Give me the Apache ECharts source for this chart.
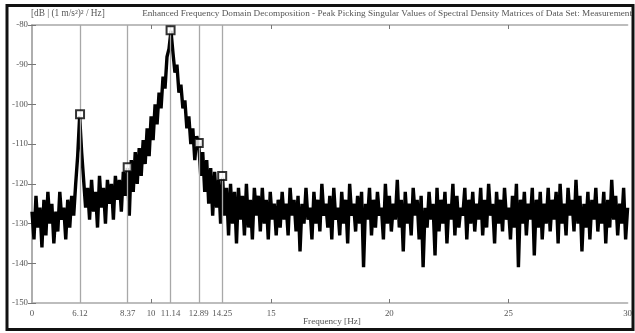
<!DOCTYPE html>
<html><head><meta charset="utf-8">
<script src="https://cdn.jsdelivr.net/npm/echarts@6/dist/echarts.min.js"></script>
<style>html,body{margin:0;padding:0;background:#fff}#c{width:635px;height:333px}</style>
</head><body><div id="c"></div>
<script>
// Singular value spectrum (dB), sampled evenly along the displayed axis (axis units 0..30)
const xStep = 0.1;
const svValues = [
 -127,-134,-123,-131,-126,-136,-124,-133,-122,-130,-125,-135,-127,-132,-122,-129,-126,-134,-124,-131,-123,-128,
 -120,-113,-103,-112,-119,-126,
 -121,-129,-119,-127,-122,-131,-118,-126,-121,-130,-119,-125,-120,-129,-118,-124,-119,-127,-117,-123,
 -116,-128,
 -114,-122,-112,-120,-111,-118,-109,-115,-106,-113,-103,-109,-100,-105,-97,-101,-93,-96,-88,-86,-81.5,
 -87,-92,-90,-97,-95,-101,-99,-106,-103,-110,-106,-114,-108,-110,-118,-112,-122,-114,-125,-116,-128,-117,-126,-119,-130,-118.5,
 -128,-121,-133,-120,-130,-122,-135,-121,-129,-123,-133,-120,-131,-124,-134,-121,-128,-123,-132,-121,-130,-124,-134,-122,-129,-125,-133,
 -124,-131,-122,-129,-125,-133,-121,-128,-124,-132,-123,-137,-125,-130,-121,-129,-126,-134,-122,-130,
 -124,-132,-120,-128,-125,-131,-123,-134,-121,-129,-126,-133,-122,-130,-124,-135,-120,-128,-125,-132,
 -123,-130,-122,-141,-125,-129,-121,-133,-124,-131,-122,-128,-126,-134,-120,-130,-123,-132,-125,-129,
 -119,-131,-124,-137,-122,-130,-125,-133,-121,-128,-124,-134,-123,-141,-126,-131,-122,-129,-125,-138,
 -121,-132,-124,-130,-122,-135,-125,-129,-120,-133,-123,-131,-126,-128,-121,-134,-124,-130,-122,-132,
 -125,-129,-121,-133,-124,-131,-120,-128,-125,-135,-122,-130,-124,-132,-121,-129,-126,-134,-123,-131,
 -120,-141,-124,-130,-122,-133,-125,-129,-121,-138,-124,-131,-122,-134,-125,-130,-121,-132,-124,-129,
 -122,-135,-120,-130,-125,-133,-121,-128,-124,-132,-119,-130,-123,-137,-125,-131,-122,-134,-124,-129,
 -121,-132,-125,-130,-122,-135,-124,-131,-119,-129,-123,-133,-125,-130,-121,-134,-126
];
// Picked peaks
const peakPos = [2.42, 4.82, 6.98, 8.4, 9.58];
const peakDb = [-102.5, -115.8, -81.3, -109.7, -118];
// Tick labels on the frequency axis and where they sit
const xLabelPos = [0, 2.42, 4.82, 6.0, 6.98, 8.4, 9.58, 12.05, 18, 24, 30];
const xLabelText = ['0','6.12','8.37','10','11.14','12.89','14.25','15','20','25','30'];
const xTickPos = [6.0, 12.05, 18, 24];

const labelMap = {};
xLabelPos.forEach((p, i) => labelMap[p.toFixed(2)] = xLabelText[i]);
const lineData = svValues.map((v, i) => [+(i * xStep).toFixed(2), v]);
const peakData = peakPos.map((p, i) => [p, peakDb[i]]);

const FONT = 'Liberation Serif';
const GREY = '#a8a8a8';
const TXT = '#555';

const chart = echarts.init(document.getElementById('c'), null, {renderer: 'canvas'});
chart.setOption({
  animation: false,
  backgroundColor: '#fff',
  grid: {left: 32, right: 3, top: 25, bottom: 30},
  xAxis: [{
    type: 'value', min: 0, max: 30, position: 'bottom',
    axisLine: {lineStyle: {color: GREY, width: 1.5}},
    axisTick: {show: true, inside: true, length: 4, customValues: xTickPos, lineStyle: {color: '#777'}},
    axisLabel: {customValues: xLabelPos, formatter: v => labelMap[(+v).toFixed(2)] || '',
      fontFamily: FONT, fontSize: 8.8, color: TXT, margin: 6},
    splitLine: {show: false}
  }, {
    type: 'value', min: 0, max: 30, position: 'top',
    axisLine: {lineStyle: {color: GREY, width: 1.5}},
    axisTick: {show: true, inside: true, length: 4, customValues: xTickPos, lineStyle: {color: '#777'}},
    axisLabel: {show: false}, splitLine: {show: false}
  }],
  yAxis: [{
    type: 'value', min: -150, max: -80, interval: 10, position: 'left',
    axisLine: {show: true, lineStyle: {color: GREY, width: 1.5}},
    axisTick: {show: true, inside: true, length: 4, lineStyle: {color: '#777'}},
    axisLabel: {fontFamily: FONT, fontSize: 8.8, color: TXT, margin: 4},
    splitLine: {show: false}
  }, {
    type: 'value', min: -150, max: -80, interval: 10, position: 'right',
    axisLine: {show: true, lineStyle: {color: GREY, width: 1.5}},
    axisTick: {show: true, inside: true, length: 4, lineStyle: {color: '#777'}},
    axisLabel: {show: false}, splitLine: {show: false}
  }],
  series: [{
    type: 'line', data: lineData, showSymbol: false, symbol: 'none',
    lineStyle: {color: '#000', width: 3.4, join: 'miter', miterLimit: 3}, z: 3,
    markLine: {
      silent: true, symbol: 'none', label: {show: false},
      lineStyle: {color: GREY, width: 1.3, type: 'solid'},
      data: peakPos.map(p => ({xAxis: p}))
    }
  }, {
    type: 'scatter', data: peakData, symbol: 'rect', symbolSize: 8,
    itemStyle: {color: '#fff', borderColor: '#000', borderWidth: 2}, z: 5
  }],
  graphic: [
    {type: 'text', left: 31, top: 9, style: {text: '[dB | (1 m/s²)² / Hz]', font: '9.3px "Liberation Serif"', fill: TXT}},
    {type: 'text', right: 3, top: 9, style: {text: 'Enhanced Frequency Domain Decomposition - Peak Picking Singular Values of Spectral Density Matrices of Data Set: Measurement', font: '9.2px "Liberation Serif"', fill: TXT}},
    {type: 'text', left: 303, top: 317, style: {text: 'Frequency [Hz]', font: '9.2px "Liberation Serif"', fill: TXT}},
    {type: 'rect', shape: {x: 7, y: 5.5, width: 626, height: 324}, style: {fill: 'none', stroke: '#111', lineWidth: 3}, z: 100}
  ]
});
</script></body></html>
